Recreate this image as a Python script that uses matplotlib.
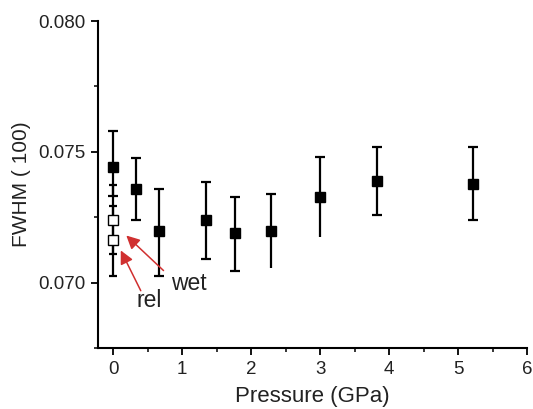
import matplotlib
matplotlib.use("Agg")
import matplotlib.pyplot as plt
import numpy as np

plt.rcParams['font.family'] = ['Liberation Sans', 'DejaVu Sans']

# Filled series (pressure run)
pressure = [0.0, 0.33, 0.66, 1.35, 1.77, 2.29, 3.0, 3.82, 5.22]
fwhm = [0.0744, 0.07357, 0.07197, 0.07238, 0.07188, 0.07197, 0.07326, 0.07387, 0.07377]
err_up = [0.00138, 0.00121, 0.00162, 0.00147, 0.00139, 0.00143, 0.00154, 0.00131, 0.00141]
err_lo = [0.00109, 0.00118, 0.00172, 0.00149, 0.00142, 0.00143, 0.00151, 0.00130, 0.00139]
lower_cap = [True, True, True, True, True, False, False, True, True]

# Open squares: wet and released
open_x = [0.0, 0.0]
open_y = [0.07239, 0.07161]
open_up = [0.00133, 0.00131]
open_lo = [0.00130, 0.00136]

xticks = [0, 1, 2, 3, 4, 5, 6]
yticks = [0.070, 0.075, 0.080]
ytick_labels = ['0.070', '0.075', '0.080']

fig = plt.figure(figsize=(5.33, 4.09), dpi=100)
ax = fig.add_axes([98/533, 61/409, (527-98)/533, (348-21)/409])

lw = 1.6
# open squares with their error bars
ax.errorbar(open_x, open_y, yerr=[open_lo, open_up], fmt='none', ecolor='black',
            elinewidth=lw, capsize=3.2, capthick=lw, zorder=2)
ax.plot(open_x, open_y, 's', ms=6.5, mfc='white', mec='black', mew=1.0, zorder=3)

# filled series: bars without caps, then caps
p = np.array(pressure); f = np.array(fwhm)
lo = f - np.array(err_lo); hi = f + np.array(err_up)
ax.vlines(p, lo, hi, color='black', lw=lw, zorder=4)
ax.plot(p, hi, '_', color='black', ms=6.5, mew=lw, zorder=4)
lc = np.array(lower_cap)
ax.plot(p[lc], lo[lc], '_', color='black', ms=6.5, mew=lw, zorder=4)
ax.plot(p, f, 's', ms=7.2, mfc='black', mec='black', zorder=5)

# annotations
red = '#d03030'
ax.annotate('', xy=(0.19, 0.0718), xytext=(0.73, 0.07046),
            arrowprops=dict(arrowstyle='-|>', color=red, lw=1.1, mutation_scale=20,
                            shrinkA=0, shrinkB=0), zorder=6)
ax.annotate('', xy=(0.11, 0.07123), xytext=(0.40, 0.06969),
            arrowprops=dict(arrowstyle='-|>', color=red, lw=1.1, mutation_scale=20,
                            shrinkA=0, shrinkB=0), zorder=6)
ax.text(1.09, 0.06996, 'wet', fontsize=16.5, ha='center', va='center', color='#222222')
ax.text(0.52, 0.0693, 'rel', fontsize=16.5, ha='center', va='center', color='#222222')

ax.set_xlim(-0.22, 6.0)
ax.set_ylim(0.0675, 0.080)
ax.set_xticks(xticks)
ax.set_xticks(np.arange(0.5, 6, 1.0), minor=True)
ax.set_yticks(yticks)
ax.set_yticklabels(ytick_labels)
ax.set_yticks([0.0675, 0.0725, 0.0775], minor=True)

for s in ['top', 'right']:
    ax.spines[s].set_visible(False)
for s in ['left', 'bottom']:
    ax.spines[s].set_linewidth(1.5)

ax.tick_params(which='major', direction='out', length=5, width=1.3, labelsize=13.5,
               colors='black', labelcolor='#222222', pad=4)
ax.tick_params(which='minor', direction='out', length=3, width=1.1)

ax.set_xlabel('Pressure (GPa)', fontsize=16, color='#222222', labelpad=6)
ax.set_ylabel('FWHM ( 100)', fontsize=15, color='#222222', labelpad=5)

fig.savefig('out.png', dpi=100)
